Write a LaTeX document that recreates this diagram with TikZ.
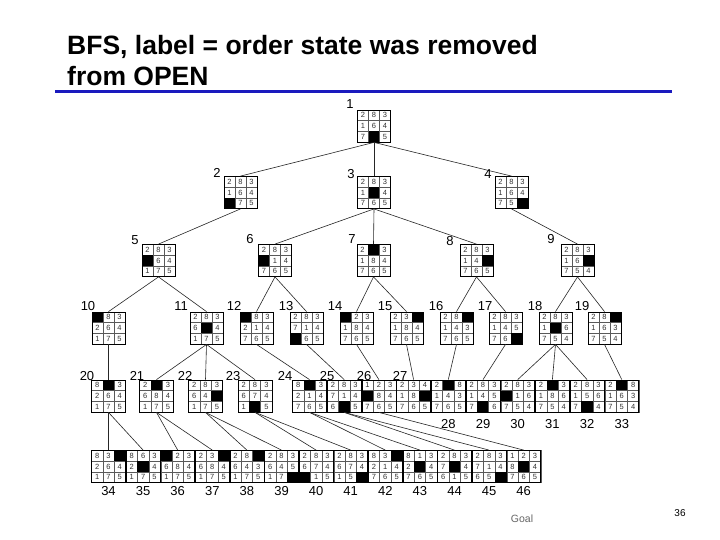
\documentclass[tikz,border=0pt]{standalone}
\usepackage{fontspec}
\setmainfont{Liberation Sans}
\definecolor{titleblue}{RGB}{26,26,190}
\definecolor{dig}{RGB}{50,50,50}
\tikzset{
  puzbox/.style={draw=black,line width=0.8pt,minimum width=\pw pt,minimum height=32pt,inner sep=0pt},
  cellline/.style={draw=black!65,line width=0.4pt},
  celltxt/.style={inner sep=0pt,text=dig,font=\fontsize{7.5}{7.5}\selectfont},
  lbl/.style={inner sep=0pt,font=\fontsize{13}{13}\selectfont},
  edge/.style={draw=black!85,line width=0.6pt},
  ttl/.style={inner sep=0pt,anchor=base west,font=\fontsize{26.5}{30}\selectfont\bfseries}
}
\def\pw{33}
\newcommand\puz[4]{%
  \foreach \v [count=\i from 0] in {#4} {
    \pgfmathtruncatemacro\cx{mod(\i,3)}
    \pgfmathtruncatemacro\cy{floor(\i/3)}
    \pgfmathsetmacro\cw{\pw/3}
    \pgfmathsetmacro\px{#2-\cw+\cw*\cx}
    \pgfmathsetmacro\py{#3-32/3+32/3*\cy}
    \ifnum\v=0
      \fill[black] (\px-\cw/2,\py-16/3) rectangle (\px+\cw/2,\py+16/3);
    \else
      \draw[cellline] (\px-\cw/2,\py-16/3) rectangle (\px+\cw/2,\py+16/3);
      \node[celltxt] (#1c\i) at (\px,\py) {\v};
    \fi
  }
  \node[puzbox] (#1) at (#2,#3) {};
}
\begin{document}
\begin{tikzpicture}[x=1pt,y=-1pt]
\useasboundingbox (0,0) rectangle (720,540);
\fill[white] (0,0) rectangle (720,540);
% title
\node[ttl] (t1) at (67,55) {BFS, label = order state was removed};
\node[ttl] (t2) at (67,86) {from OPEN};
\coordinate (ruleA) at (55,92);
\coordinate (ruleB) at (672,92);
\draw[titleblue,line width=3pt] (ruleA) -- (ruleB);
% level 1-4
\puz{p1}{374}{126}{2,8,3,1,6,4,7,0,5}
\puz{p2}{240.5}{192.5}{2,8,3,1,6,4,0,7,5}
\puz{p3}{374}{192.5}{2,8,3,1,0,4,7,6,5}
\puz{p4}{511.5}{192.5}{2,8,3,1,6,4,7,5,0}
\puz{p5}{158.5}{260.5}{2,8,3,0,6,4,1,7,5}
\puz{p6}{275}{260.5}{2,8,3,0,1,4,7,6,5}
\puz{p7}{373.5}{260.5}{2,0,3,1,8,4,7,6,5}
\puz{p8}{476.5}{260.5}{2,8,3,1,4,0,7,6,5}
\puz{p9}{577.5}{260.5}{2,8,3,1,6,0,7,5,4}
\puz{p10}{108.5}{328}{0,8,3,2,6,4,1,7,5}
\puz{p11}{206.5}{328}{2,8,3,6,0,4,1,7,5}
\puz{p12}{256.5}{328}{0,8,3,2,1,4,7,6,5}
\puz{p13}{306.5}{328}{2,8,3,7,1,4,0,6,5}
\puz{p14}{356.5}{328}{0,2,3,1,8,4,7,6,5}
\puz{p15}{406.5}{328}{2,3,0,1,8,4,7,6,5}
\puz{p16}{456.5}{328}{2,8,0,1,4,3,7,6,5}
\puz{p17}{505.5}{328}{2,8,3,1,4,5,7,6,0}
\puz{p18}{555.5}{328}{2,8,3,1,0,6,7,5,4}
\puz{p19}{604.5}{328}{2,8,0,1,6,3,7,5,4}
% level 5
\def\pw{34}
\puz{p20}{108.5}{396}{8,0,3,2,6,4,1,7,5}
\puz{p21}{156.5}{396}{2,0,3,6,8,4,1,7,5}
\puz{p22}{205.5}{396}{2,8,3,6,4,0,1,7,5}
\puz{p23}{255}{396}{2,8,3,6,7,4,1,0,5}
\puz{p24}{309.5}{396}{8,0,3,2,1,4,7,6,5}
\puz{p25}{344.2}{396}{2,8,3,7,1,4,6,0,5}
\puz{p26}{378.9}{396}{1,2,3,0,8,4,7,6,5}
\puz{p27}{413.6}{396}{2,3,4,1,8,0,7,6,5}
\puz{p28}{448.3}{396}{2,0,8,1,4,3,7,6,5}
\puz{p29}{483}{396}{2,8,3,1,4,5,7,0,6}
\puz{p30}{517.7}{396}{2,8,3,0,1,6,7,5,4}
\puz{p31}{552.4}{396}{2,0,3,1,8,6,7,5,4}
\puz{p32}{587.1}{396}{2,8,3,1,5,6,7,0,4}
\puz{p33}{621.8}{396}{2,0,8,1,6,3,7,5,4}
% level 6
\puz{p34}{108.5}{466.5}{8,3,0,2,6,4,1,7,5}
\puz{p35}{143.1}{466.5}{8,6,3,2,0,4,1,7,5}
\puz{p36}{177.7}{466.5}{0,2,3,6,8,4,1,7,5}
\puz{p37}{212.3}{466.5}{2,3,0,6,8,4,1,7,5}
\puz{p38}{246.9}{466.5}{2,8,0,6,4,3,1,7,5}
\puz{p39}{281.5}{466.5}{2,8,3,6,4,5,1,7,0}
\puz{p40}{316.1}{466.5}{2,8,3,6,7,4,0,1,5}
\puz{p41}{350.7}{466.5}{2,8,3,6,7,4,1,5,0}
\puz{p42}{385.3}{466.5}{8,3,0,2,1,4,7,6,5}
\puz{p43}{419.9}{466.5}{8,1,3,2,0,4,7,6,5}
\puz{p44}{454.5}{466.5}{2,8,3,7,0,4,6,1,5}
\puz{p45}{489.1}{466.5}{2,8,3,7,1,4,6,5,0}
\puz{p46}{523.7}{466.5}{1,2,3,8,0,4,7,6,5}
% edges
\foreach \a/\b in {1/2,1/3,1/4,2/5,3/6,3/7,3/8,4/9,5/10,5/11,6/12,6/13,7/14,7/15,8/16,8/17,9/18,9/19,
  10/20,11/21,11/22,11/23,12/24,13/25,14/26,15/27,16/28,17/29,18/30,18/31,18/32,19/33,
  20/34,20/35,21/36,21/37,22/38,22/39,23/40,23/41,24/42,24/43,25/44,25/45,26/46}
  \draw[edge] (p\a.south) -- (p\b.north);
% labels
\foreach \n/\x/\y in {1/350/104,2/217/173,3/351/174,4/488/174,5/135/240,6/250/239,7/352/239,8/450/241,9/551/239,
  10/88/306,11/181/306,12/234/306,13/286/306,14/335/306,15/385/306,16/436/306,17/485/306,18/535/306,19/582/306,
  20/87/376,21/137/376,22/185/376,23/233/376,24/285/376,25/327/376,26/364/376,27/400/376,
  28/448.3/424,29/483/424,30/517.7/424,31/552.4/424,32/587.1/424,33/621.8/424,
  34/108.5/491,35/143.1/491,36/177.7/491,37/212.3/491,38/246.9/491,39/281.5/491,40/316.1/491,
  41/350.7/491,42/385.3/491,43/419.9/491,44/454.5/491,45/489.1/491,46/523.7/491}
  \node[lbl] (l\n) at (\x,\y) {\n};
\node[inner sep=0pt,text=black!60,font=\fontsize{10.5}{10.5}\selectfont] (goal) at (522,519) {Goal};
\node[inner sep=0pt,font=\fontsize{10}{10}\selectfont] (pg) at (680,513) {36};
\end{tikzpicture}
\end{document}
